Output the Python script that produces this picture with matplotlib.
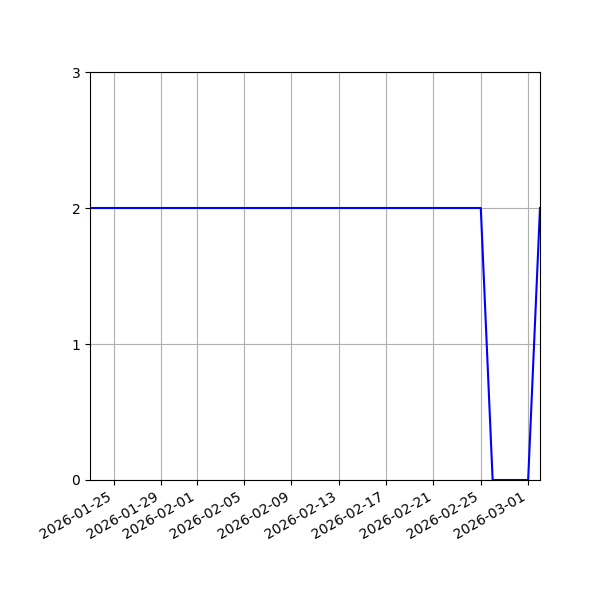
import matplotlib
matplotlib.use("Agg")
import matplotlib.pyplot as plt
import numpy as np
import pandas as pd

# daily values, 2026-01-23 .. 2026-03-02
dates = pd.date_range("2026-01-23", "2026-03-02", freq="D")
values = [2] * 34 + [0, 0, 0, 0] + [2]

fig, ax = plt.subplots(figsize=(6, 6), dpi=100)
ax.plot(dates, values, color="blue", linewidth=1.5)
ax.set_xlim(dates[0], dates[-1])
ax.set_ylim(0, 3)
ax.set_yticks([0, 1, 2, 3])
ax.grid(True)
fig.autofmt_xdate()
fig.subplots_adjust(left=0.15, right=0.9, top=0.88, bottom=0.2)

fig.savefig("out.png")
